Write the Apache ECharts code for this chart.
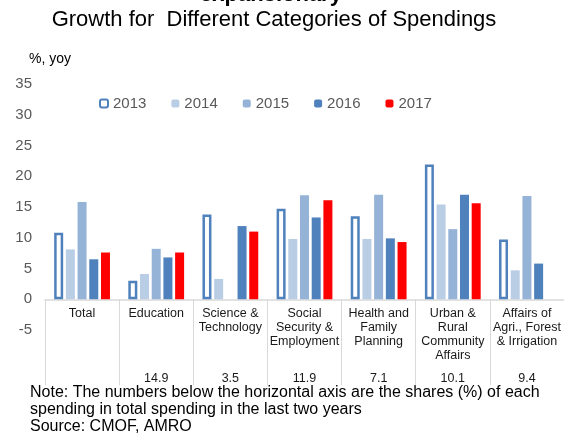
<!DOCTYPE html>
<html>
<head>
<meta charset="utf-8">
<script src="https://cdn.jsdelivr.net/npm/echarts@6/dist/echarts.min.js"></script>
<style>html,body{margin:0;padding:0;background:#fff}#c{width:564px;height:435px}</style>
</head>
<body>
<div id="c"></div>
<script>
var categories = ['Total', 'Education', 'Science &\nTechnology', 'Social\nSecurity &\nEmployment', 'Health and\nFamily\nPlanning', 'Urban &\nRural\nCommunity\nAffairs', 'Affairs of\nAgri., Forest\n& Irrigation'];
var shares = ['', '14.9', '3.5', '11.9', '7.1', '10.1', '9.4'];
var years = ['2013', '2014', '2015', '2016', '2017'];
var v2013 = [10.8, 3.0, 13.8, 14.7, 13.5, 21.9, 9.7];
var v2014 = [8.1, 4.1, 3.3, 9.8, 9.8, 15.4, 4.7];
var v2015 = [15.8, 8.2, 0, 16.9, 17.0, 11.4, 16.8];
var v2016 = [6.5, 6.8, 11.9, 13.3, 9.9, 17.0, 5.8];
var v2017 = [7.6, 7.6, 11.0, 16.1, 9.3, 15.6, 0];
var yTicks = [-5, 0, 5, 10, 15, 20, 25, 30, 35];

var FONT = '"Liberation Sans", Arial, sans-serif';
var chart = echarts.init(document.getElementById('c'), null, {renderer: 'canvas'});
var styles = [
  {color: '#ffffff', borderColor: '#4F81BD', borderWidth: 2.5},
  {color: '#B9CDE5'},
  {color: '#95B3D7'},
  {color: '#4F81BD'},
  {color: '#FF0000'}
];
var vals = [v2013, v2014, v2015, v2016, v2017];
var series = years.map(function (y, i) {
  return {
    name: y, type: 'bar', data: vals[i], barWidth: 9, barGap: '30%',
    itemStyle: styles[i], emphasis: {disabled: true}
  };
});
var gridTop = 84, gridH = 246;
var zeroOffset = gridH * (0 - yTicks[0]) / (yTicks[yTicks.length - 1] - yTicks[0]);
chart.setOption({
  animation: false,
  textStyle: {fontFamily: FONT},
  graphic: [
    {type: 'text', x: 271, y: -16, style: {text: 'expansionary', font: 'bold 22px ' + FONT, fill: '#000', align: 'center'}},
    {type: 'text', x: 274, y: 9, style: {text: 'Growth for  Different Categories of Spendings', font: '22px ' + FONT, fill: '#000', align: 'center'}},
    {type: 'text', x: 29, y: 52, style: {text: '%, yoy', font: '14px ' + FONT, fill: '#000'}},
    {type: 'text', x: 30, y: 384, style: {text: 'Note: The numbers below the horizontal axis are the shares (%) of each\nspending in total spending in the last two years\nSource: CMOF, AMRO', font: '16px ' + FONT, fill: '#000', lineHeight: 17}}
  ],
  legend: {
    data: years, left: 94, top: 91, itemWidth: 8, itemHeight: 8, itemGap: 25,
    textStyle: {fontSize: 15, color: '#595959', fontFamily: FONT}
  },
  grid: {left: 45, top: gridTop, width: 521, height: gridH, containLabel: false},
  xAxis: [
    {
      type: 'category', data: categories, position: 'bottom', offset: -zeroOffset,
      axisLine: {onZero: false, lineStyle: {color: '#D9D9D9', width: 1.5}},
      axisTick: {show: true, interval: 0, length: 86, lineStyle: {color: '#D9D9D9', width: 1}},
      axisLabel: {interval: 0, margin: 7, fontSize: 12.5, lineHeight: 14, color: '#1a1a1a', fontFamily: FONT}
    },
    {
      type: 'category', data: shares, position: 'bottom', offset: 36,
      axisLine: {show: false, onZero: false}, axisTick: {show: false},
      axisLabel: {interval: 0, margin: 6, fontSize: 12.5, color: '#1a1a1a', fontFamily: FONT}
    }
  ],
  yAxis: {
    type: 'value', min: yTicks[0], max: yTicks[yTicks.length - 1], interval: 5,
    axisLine: {show: false}, axisTick: {show: false}, splitLine: {show: false},
    axisLabel: {margin: 13, fontSize: 15, color: '#595959', fontFamily: FONT}
  },
  series: series
});
</script>
</body>
</html>
